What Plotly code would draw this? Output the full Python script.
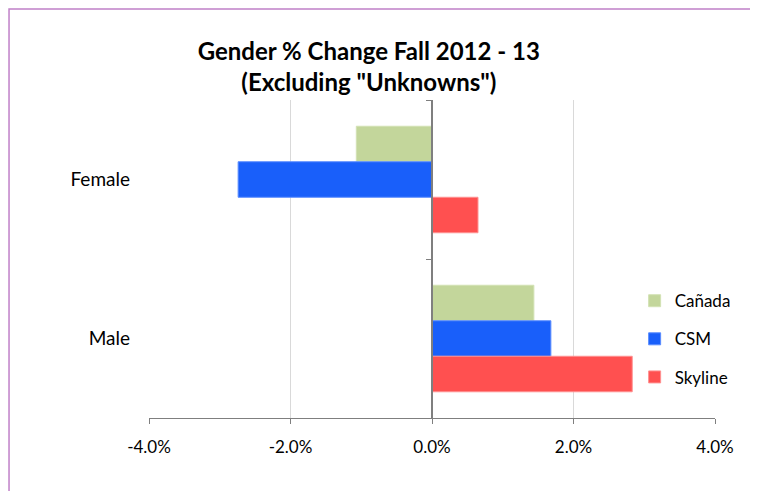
import plotly.graph_objects as go

# data
categories = ["Female", "Male"]
series_names = ["Cañada", "CSM", "Skyline"]
canada = [-0.0107, 0.0144]
csm = [-0.0274, 0.0168]
skyline = [0.0065, 0.0283]
colors = ["#c3d69b", "#195ffa", "#ff5050"]
edge_colors = ["#d3e2b4", "#5a8cff", "#ff9090"]
tick_vals = [-0.04, -0.02, 0.0, 0.02, 0.04]
tick_text = ["-4.0%", "-2.0%", "0.0%", "2.0%", "4.0%"]

fig = go.Figure()
for name, vals, col, edge in zip(series_names, [canada, csm, skyline], colors, edge_colors):
    fig.add_trace(go.Bar(
        y=categories, x=vals, name=name, orientation="h", legendgroup=name,
        marker=dict(color=col, line=dict(color=edge, width=1)),
    ))

font_family = "Lato, 'Open Sans', sans-serif"

fig.update_layout(
    width=758, height=491,
    margin=dict(l=141, r=51, t=92, b=81),
    paper_bgcolor="white", plot_bgcolor="white",
    barmode="group", bargap=0.33, bargroupgap=0,
    font=dict(family=font_family, size=17, color="#000000"),
    title=dict(
        text="<b>Gender % Change Fall 2012 - 13<br>(Excluding \"Unknowns\")</b>",
        x=0.476, xanchor="center", y=0.895, yanchor="middle",
        font=dict(size=24, family=font_family, color="#000000"),
    ),
    xaxis=dict(
        range=[-0.04, 0.04], tickvals=tick_vals, ticktext=tick_text,
        showgrid=True, gridcolor="#d9d9d9", gridwidth=1,
        zeroline=False,
        showline=True, linecolor="#7f7f7f", linewidth=1,
        ticks="outside", ticklen=5, tickcolor="#7f7f7f",
        ticklabelstandoff=9,
        tickfont=dict(size=17), fixedrange=True,
    ),
    yaxis=dict(
        categoryorder="array", categoryarray=categories,
        autorange="reversed",
        showgrid=False, zeroline=False, showline=False,
        ticks="", ticklabelstandoff=18,
        tickfont=dict(size=19),
    ),
    yaxis2=dict(
        overlaying="y", matches="y", anchor="free", position=0.5,
        side="left", showline=True, linecolor="#7f7f7f", linewidth=2,
        ticks="outside", tickson="boundaries", ticklen=5, tickcolor="#7f7f7f",
        showticklabels=False, showgrid=False, zeroline=False,
        categoryorder="array", categoryarray=categories,
    ),
    legend=dict(
        x=0.858, y=0.424, xanchor="left", yanchor="top",
        bgcolor="white", font=dict(size=17),
        itemwidth=30, tracegroupgap=13, traceorder="grouped",
    ),
    showlegend=True,
)

# invisible trace on the second axis so it renders
fig.add_trace(go.Bar(
    y=categories, x=[0, 0], orientation="h", yaxis="y2",
    showlegend=False, hoverinfo="skip", marker=dict(color="rgba(0,0,0,0)"),
))

# chart outer border (only top/left visible in the crop)
fig.add_shape(
    type="rect", xref="paper", yref="paper",
    x0=-0.2473, x1=1.3, y0=-0.4, y1=1.2862,
    line=dict(color="#c080c8", width=1.5), fillcolor="rgba(0,0,0,0)",
    layer="below",
)

fig.write_html("out.html")
